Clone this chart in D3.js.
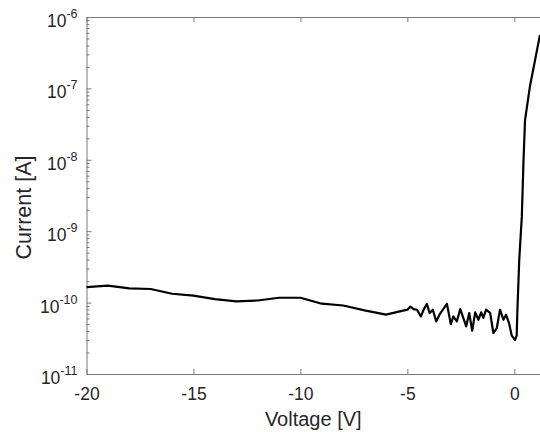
<!DOCTYPE html>
<html>
<head>
<meta charset="utf-8">
<script src="https://cdn.jsdelivr.net/npm/d3@7"></script>
<style>
  html, body { margin: 0; padding: 0; background: #fff; }
  svg { display: block; font-family: "Liberation Sans", Arial, sans-serif; }
</style>
</head>
<body>
<div id="chart"></div>
<script>
// I-V sweep, log current vs voltage
const voltage = [
  -20, -19, -18, -17, -16, -15, -14, -13, -12, -11, -10, -9, -8, -7, -6, -5,
  -4.86, -4.71, -4.55, -4.37, -4.24, -4.09, -3.96, -3.81, -3.65, -3.50, -3.34, -3.15,
  -2.97, -2.85, -2.69, -2.53, -2.41, -2.25, -2.11, -1.97, -1.83, -1.68, -1.55, -1.45,
  -1.32, -1.13, -0.98, -0.82, -0.67, -0.51, -0.39, -0.25, -0.12, 0.03, 0.11, 0.14,
  0.23, 0.35, 0.43, 0.50, 0.73, 0.97, 1.17, 1.2
];
const current = [
  1.65e-10, 1.73e-10, 1.58e-10, 1.55e-10, 1.33e-10, 1.25e-10, 1.12e-10, 1.04e-10, 1.07e-10, 1.17e-10, 1.17e-10, 9.65e-11, 9.1e-11, 7.8e-11, 6.8e-11, 7.96e-11,
  8.8e-11, 8.1e-11, 7.95e-11, 6.4e-11, 7.95e-11, 9.6e-11, 7.15e-11, 7.95e-11, 5.45e-11, 6.76e-11, 7.95e-11, 9.6e-11,
  5.0e-11, 6.4e-11, 5.45e-11, 8.1e-11, 6.4e-11, 4.65e-11, 7.15e-11, 4.04e-11, 7.3e-11, 5.75e-11, 7.3e-11, 6.1e-11,
  7.95e-11, 7.15e-11, 3.75e-11, 4.4e-11, 7.95e-11, 5.75e-11, 6.76e-11, 5.2e-11, 3.44e-11, 3.0e-11, 3.44e-11, 7.2e-11,
  4.0e-10, 1.6e-9, 1.0e-8, 3.6e-8, 1.07e-7, 2.5e-7, 5.1e-7, 5.6e-7
];
const xTicks = [-20, -15, -10, -5, 0];
const yExponents = [-11, -10, -9, -8, -7, -6];

const W = 540, H = 432;
const margin = { top: 17, right: 0, bottom: 58, left: 86.5 };
const width = W - margin.left - margin.right;
const height = H - margin.top - margin.bottom;
const axisColor = "#7a7a7a";
const textColor = "#262626";

const svg = d3.select("#chart").append("svg")
  .attr("width", W).attr("height", H);

const g = svg.append("g")
  .attr("transform", `translate(${margin.left},${margin.top})`);

const x = d3.scaleLinear().domain([-20, 1.2]).range([0, width]);
const y = d3.scaleLog().domain([1e-11, 1e-6]).range([height, 0]);

const majorY = yExponents.map(e => Math.pow(10, e));
const minorY = [];
yExponents.slice(0, -1).forEach(e => {
  for (let k = 2; k <= 9; k++) minorY.push(k * Math.pow(10, e));
});

// bottom axis
const xAxis = g.append("g")
  .attr("transform", `translate(0,${height})`)
  .call(d3.axisBottom(x).tickValues(xTicks).tickSizeInner(-5).tickSizeOuter(0).tickPadding(9)
    .tickFormat(d => d));
xAxis.selectAll("text")
  .attr("font-size", "17.5px").attr("fill", textColor).attr("dy", "0.95em");

// top axis
g.append("g")
  .call(d3.axisTop(x).tickValues(xTicks).tickSizeInner(-5).tickSizeOuter(0).tickFormat(""));

// left axis, major + minor ticks
g.append("g")
  .call(d3.axisLeft(y).tickValues(majorY).tickSizeInner(-5).tickSizeOuter(0).tickFormat(""));
g.append("g")
  .call(d3.axisLeft(y).tickValues(minorY).tickSizeInner(-3).tickSizeOuter(0).tickFormat(""))
  .select(".domain").remove();

g.selectAll(".domain, .tick line").attr("stroke", axisColor);

// y tick labels as 10^n
const yLab = g.append("g").selectAll("text")
  .data(yExponents)
  .join("text")
  .attr("x", -9)
  .attr("y", d => y(Math.pow(10, d)) + 10)
  .attr("text-anchor", "end")
  .attr("fill", textColor)
  .attr("font-size", "17.5px");
yLab.append("tspan").text("10");
yLab.append("tspan").attr("dy", -9).attr("font-size", "12.5px").text(d => "-" + Math.abs(d));

// axis titles
g.append("text")
  .attr("x", width / 2).attr("y", height + 52)
  .attr("text-anchor", "middle").attr("fill", textColor)
  .attr("font-size", "20px")
  .text("Voltage [V]");

g.append("text")
  .attr("transform", `translate(${-56},${height / 2 + 12}) rotate(-90)`)
  .attr("text-anchor", "middle").attr("fill", textColor)
  .attr("font-size", "21.5px")
  .text("Current [A]");

// the curve
const pts = voltage.map((v, i) => [v, current[i]]);
g.append("path")
  .datum(pts)
  .attr("fill", "none")
  .attr("stroke", "#000")
  .attr("stroke-width", 2.2)
  .attr("stroke-linejoin", "round")
  .attr("d", d3.line().x(d => x(d[0])).y(d => y(d[1])));
</script>
</body>
</html>
